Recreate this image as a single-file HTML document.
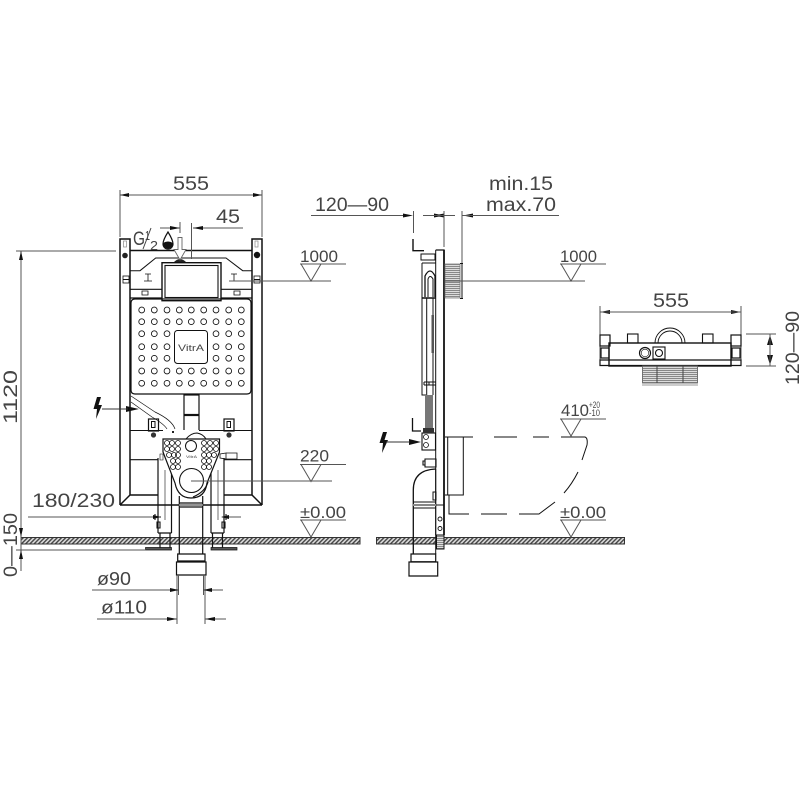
<!DOCTYPE html>
<html>
<head>
<meta charset="utf-8">
<style>
html,body{margin:0;padding:0;background:#fff}
svg{display:block}
text{font-family:"Liberation Sans",sans-serif;fill:#444}
</style>
</head>
<body>
<svg xmlns="http://www.w3.org/2000/svg" width="800" height="800" viewBox="0 0 800 800">
<defs>
<pattern id="h" width="3" height="3" patternUnits="userSpaceOnUse" patternTransform="rotate(45)">
<rect width="3" height="3" fill="#ddd"/><rect width="1.4" height="3" fill="#444"/>
</pattern>
<pattern id="g" width="3" height="2" patternUnits="userSpaceOnUse">
<rect width="3" height="2" fill="#ddd"/><rect width="3" height="1" fill="#888"/>
</pattern>
<g id="lvl"><path d="M0 0H46M1 0L11 17L21 0" fill="none" stroke="#555" stroke-width="1"/></g>
</defs>

<!-- floors -->
<rect x="21" y="537.5" width="339" height="6.5" fill="url(#h)" stroke="#333" stroke-width="1"/>
<rect x="376.5" y="537.5" width="248" height="6.5" fill="url(#h)" stroke="#333" stroke-width="1"/>

<!-- FRONT VIEW -->
<g fill="none" stroke="#111" stroke-width="1.2">
<path d="M120 505V239H130V495M120 505H262M130 495H158M224 495H252V239H262V505M130 495L120 505M252 495L262 505" stroke-width="1.5"/>
<path d="M130 250.5H252" stroke-width="1.5"/>
<path d="M130 270.700H140L155.700 258H226L242.700 270.700H252" stroke-width="1"/>
<path d="M130 289.300H162M221 289.300H252M130 298H162M221 298H252" />
<rect x="162" y="262.700" width="59" height="38" stroke-width="1.4"/>
<rect x="165" y="265.500" width="53" height="32" stroke-width="1.1"/>
<path d="M131 303Q131 299 135 299H247Q251 299 251 303V390Q251 394 247 394H135Q131 394 131 390Z" stroke-width="1.2"/>
<rect x="174.500" y="330.500" width="33" height="33" rx="3" stroke-width="1"/>
<path d="M184 394V430M199 394V430" stroke-width="1.2"/>
<path d="M184 415H199" stroke-width="2.2"/>
<path d="M184 395H199"/>
<path d="M130 430.500H163M199 430.500H252M130 459.700H158M224 459.700H252" stroke-width="1.1"/>
<rect x="148.500" y="419" width="10" height="12" stroke-width="1.2"/>
<rect x="224" y="419" width="10" height="12" stroke-width="1.2"/>
<rect x="151.500" y="421.500" width="3.500" height="6" stroke-width="1"/>
<rect x="227" y="421.500" width="3.500" height="6" stroke-width="1"/>
<path d="M131 396L155 412Q172 420 175 429M131 402L152 417Q164 424 167 429" stroke-width=".7"/>
<path d="M186 439Q191 433 197 433Q203 434 206 439" stroke-width="1"/>
<path d="M142 291h6v4h-6zM234 291h6v4h-6z" stroke-width=".8"/>
<rect x="123" y="276" width="6" height="7" stroke-width=".8"/>
<rect x="254" y="276" width="6" height="7" stroke-width=".8"/>
<path d="M123 279.500h6M254 279.500h6" stroke-width=".9"/>
<rect x="123.500" y="241" width="3" height="6" stroke="#888" stroke-width=".7"/>
<rect x="255" y="241" width="3" height="6" stroke="#888" stroke-width=".7"/>
<path d="M144 281h8M230 281h8M148 274v7M234 274v7M145 274h6M231 274h6" stroke-width=".8"/>
<path d="M158 458V533M171.500 458V533M211 458V533M224 458V533M160 533V548M170 533V548M212.500 533V548M222.500 533V548M158 533H171.500M211 533H224" stroke-width="1.2"/>
<path d="M165 470V520M218 470V520" stroke-width=".6"/>
<path d="M145.500 547.500H171.500V550H145.500ZM211 547.500H237V550H211Z" fill="#555" stroke-width=".7"/>
<path d="M179.300 496V554M202.700 496V554" stroke-width="1.2"/>
<path d="M179 503H203M179 507H203" stroke-width="1.2"/>
<path d="M179 505H203" stroke="#999" stroke-width="1.500"/>
<path d="M177.700 554H205V561H177.700ZM176.500 562H206V575H176.500Z" stroke-width="1.200"/>
<path d="M158 544H224" stroke-width=".8"/>
<path d="M152 517H161M155 514v6M222 517H230M226 514v6M157 528v-6h3v6zM225 528v-6h-3v6z" stroke-width="1.100"/>
<path d="M163 439H219.500V452L207 483Q205 498 191 498Q178 498 175 483L163 452Z" fill="#fff" stroke-width="1.200"/>
<circle cx="191.500" cy="480.500" r="12" fill="#fff" stroke-width="1.100"/>
<circle cx="191" cy="446" r="5.500" stroke-width="1"/>
<path d="M208 482Q205 492 193 497" stroke-width="1.200"/>
<path d="M226 453H237V459H226ZM220 454L226 453V459L220 458Z" stroke-width=".8"/>
<path d="M160 454h3v6h-3z" stroke-width=".6"/>
<g stroke-width=".8">
<circle cx="167" cy="443" r="2.500"/><circle cx="172" cy="443" r="2.500"/><circle cx="178" cy="443" r="2.500"/>
<circle cx="167" cy="449" r="2.500"/><circle cx="172" cy="449" r="2.500"/><circle cx="178" cy="449" r="2.500"/>
<circle cx="169" cy="455" r="2.500"/><circle cx="174" cy="455" r="2.500"/><circle cx="178" cy="455" r="2.500"/>
<circle cx="173" cy="461" r="2.500"/><circle cx="178" cy="461" r="2.500"/>
<circle cx="173" cy="467" r="2.500"/><circle cx="178" cy="467" r="2.500"/>
<circle cx="204" cy="443" r="2.500"/><circle cx="210" cy="443" r="2.500"/><circle cx="216" cy="443" r="2.500"/>
<circle cx="204" cy="449" r="2.500"/><circle cx="210" cy="449" r="2.500"/><circle cx="216" cy="449" r="2.500"/>
<circle cx="204" cy="455" r="2.500"/><circle cx="209" cy="455" r="2.500"/><circle cx="214" cy="455" r="2.500"/>
<circle cx="204" cy="461" r="2.500"/><circle cx="209" cy="461" r="2.500"/>
<circle cx="204" cy="467" r="2.500"/><circle cx="209" cy="467" r="2.500"/>
</g>
<g stroke-width=".85">
<circle cx="141.700" cy="310" r="2.900"/><circle cx="154.300" cy="310" r="2.900"/><circle cx="167" cy="310" r="2.900"/><circle cx="179.300" cy="310" r="2.900"/><circle cx="191.300" cy="310" r="2.900"/><circle cx="203.700" cy="310" r="2.900"/><circle cx="216" cy="310" r="2.900"/><circle cx="228.700" cy="310" r="2.900"/><circle cx="241.300" cy="310" r="2.900"/>
<circle cx="141.700" cy="321.700" r="2.900"/><circle cx="154.300" cy="321.700" r="2.900"/><circle cx="167" cy="321.700" r="2.900"/><circle cx="179.300" cy="321.700" r="2.900"/><circle cx="191.300" cy="321.700" r="2.900"/><circle cx="203.700" cy="321.700" r="2.900"/><circle cx="216" cy="321.700" r="2.900"/><circle cx="228.700" cy="321.700" r="2.900"/><circle cx="241.300" cy="321.700" r="2.900"/>
<circle cx="141.700" cy="333.700" r="2.900"/><circle cx="154.300" cy="333.700" r="2.900"/><circle cx="167" cy="333.700" r="2.900"/><circle cx="216" cy="333.700" r="2.900"/><circle cx="228.700" cy="333.700" r="2.900"/><circle cx="241.300" cy="333.700" r="2.900"/>
<circle cx="141.700" cy="346.700" r="2.900"/><circle cx="154.300" cy="346.700" r="2.900"/><circle cx="167" cy="346.700" r="2.900"/><circle cx="216" cy="346.700" r="2.900"/><circle cx="228.700" cy="346.700" r="2.900"/><circle cx="241.300" cy="346.700" r="2.900"/>
<circle cx="141.700" cy="358.300" r="2.900"/><circle cx="154.300" cy="358.300" r="2.900"/><circle cx="167" cy="358.300" r="2.900"/><circle cx="216" cy="358.300" r="2.900"/><circle cx="228.700" cy="358.300" r="2.900"/><circle cx="241.300" cy="358.300" r="2.900"/>
<circle cx="141.700" cy="371" r="2.900"/><circle cx="154.300" cy="371" r="2.900"/><circle cx="167" cy="371" r="2.900"/><circle cx="179.300" cy="371" r="2.900"/><circle cx="191.300" cy="371" r="2.900"/><circle cx="203.700" cy="371" r="2.900"/><circle cx="216" cy="371" r="2.900"/><circle cx="228.700" cy="371" r="2.900"/><circle cx="241.300" cy="371" r="2.900"/>
<circle cx="141.700" cy="383.300" r="2.900"/><circle cx="154.300" cy="383.300" r="2.900"/><circle cx="167" cy="383.300" r="2.900"/><circle cx="179.300" cy="383.300" r="2.900"/><circle cx="191.300" cy="383.300" r="2.900"/><circle cx="203.700" cy="383.300" r="2.900"/><circle cx="216" cy="383.300" r="2.900"/><circle cx="228.700" cy="383.300" r="2.900"/><circle cx="241.300" cy="383.300" r="2.900"/>
</g>
</g>
<circle cx="125" cy="255.500" r="2.800" fill="#222"/><circle cx="257" cy="255" r="3.200" fill="#111"/>
<circle cx="153.500" cy="435" r="2.600" fill="#333"/><circle cx="229" cy="435" r="2.600" fill="#333"/>
<rect x="172" y="431" width="2" height="2" fill="#222"/>
<path d="M174 262Q180 256 186 262Z" fill="#222"/>

<!-- drop and water arrow -->
<path d="M168 232Q173 240 173 244A5 5 0 0 1 163 244Q163 240 168 232Z" fill="#fff" stroke="#111" stroke-width="1.200"/>
<path d="M163 243Q168 240 173 243A5 5 0 0 1 163 244Z" fill="#111"/>
<path d="M178 237.500H182V249.500H186L180 260L174 249.500H178Z" fill="#fff" stroke="#666" stroke-width=".9"/>

<!-- dimension lines -->
<g fill="none" stroke="#555" stroke-width="1">
<path d="M120 190V237M262 190V237M120 195H262"/>
<path d="M160 228H180M180 222V233M191.500 223V259M193 228H243"/>
<path d="M16 251H116M21 251V537M16 550H146M21 537V550M21 550V571"/>
<path d="M28 517H160M222 517H241"/>
<path d="M92 590H179M203 590H223M97 619H177M205 619H226"/>
<path d="M178.500 575V595M203.500 575V595M177 575V624M205 575V624"/>
<path d="M191 481H332M229 281H331"/>
</g>
<use href="#lvl" x="300" y="264"/>
<use href="#lvl" x="300" y="464.500"/>
<use href="#lvl" x="300" y="520"/>
<use href="#lvl" x="560" y="264"/>
<use href="#lvl" x="560" y="419"/>
<use href="#lvl" x="560" y="520"/>
<g fill="#111">
<path d="M120 195l9-2v4zM262 195l-9-2v4z"/>
<path d="M180 228l-10-2v4zM193 228l10-2v4z"/>
<path d="M21 251l-2 9h4zM21 537l-2-9h4zM21 550l-2 9h4z"/>
<path d="M161 517l-8-2v4zM221 517l8-2v4z"/>
<path d="M179 590l-9-2v4zM203 590l9-2v4zM177 619l-10-2v4zM205 619l10-2v4z"/>
<path d="M139 409l-13-3v6zM421 442l-12-3v6z"/>
<path d="M97 397L101 397L98.500 405L102 405L96 419L97 409L93.500 409Z"/>
<path d="M383 432L387 432L384.500 440L388 440L382 453L383 443L379.500 443Z"/>
<path d="M413 215.500l-10-2v4zM434 215.500l10 2v-4zM444 215.500l-10-2v4zM463 215.500l10-2v4zM600 312l10-2v4zM741 312l-10-2v4zM770 335l-3 10h6zM770 365l-3-10h6z"/>
</g>
<path d="M102 409H128M386 442H410" stroke="#333" stroke-width="1"/>

<!-- SIDE VIEW -->
<g fill="none" stroke="#111" stroke-width="1.100">
<path d="M413 239V250.700H424" stroke-width="1.400"/>
<path d="M435.700 250H444V535" stroke-width="1.300"/>
<path d="M435.700 250V535" stroke-width="1"/>
<path d="M444 250V535" stroke-width="1.700"/>
<path d="M436 505H444" stroke-width="1"/>
<path d="M422 263H436M422 263V395H426M426.700 298V395M433 298V395" stroke-width="1"/>
<path d="M422 298H436" stroke-width="1.500"/>
<path d="M424 382H436M424 385H436M424 382V385M429 382V385" stroke-width="1"/>
<path d="M425 297V276Q430 266 435 276V297" stroke-width="1.300"/>
<path d="M428 297V279Q430 274 433 279V297" stroke-width="1"/>
<path d="M421 254H435V260H421Z" stroke-width="1"/>
<path d="M412.500 418V431H421" stroke-width="1.300"/>
<rect x="422" y="433" width="13.500" height="17" stroke-width="1.100"/>
<circle cx="426" cy="437" r="2.500" stroke-width=".8"/><circle cx="426" cy="445" r="2.500" stroke-width=".8"/>
<path d="M425 459H436V467H425ZM423 461H425V465H423Z" stroke-width="1.100"/>
<path d="M413.300 554V490Q413.300 470 435.700 469" stroke-width="1.300"/>
<path d="M435.700 469V554" stroke-width="1"/>
<path d="M413 502H436M413 508H436" stroke-width="1"/>
<path d="M413 505H436" stroke="#888" stroke-width="2"/>
<path d="M433 492H436V500H433Z" stroke-width="1"/>
<path d="M411 554H435.700V561.700H411ZM409 562H437.700V576H409Z" stroke-width="1.200"/>
<path d="M413 544H444" stroke-width=".8"/>
<rect x="436.500" y="535" width="7.500" height="14" fill="url(#g)" stroke-width="1"/>
<circle cx="440" cy="519" r="2" stroke-width=".9"/><circle cx="440" cy="528.500" r="2" stroke-width=".9"/>
<path d="M445 437H463.300V495H445M447.700 437V495" stroke-width="1"/>
<path d="M449 495V514H469M481 514H507M519 514H539L555 502" stroke-width="1"/>
<path d="M463 437H473M494 437H517M533 437H549M561 437H585Q588 438 587 445L582 460M578 472Q572 484 564 493" stroke-width="1"/>
<path d="M445 264H460V298H445Z" fill="url(#g)" stroke="#777" stroke-width=".8"/>
<path d="M462 263V298.500M460 263.500H463M460 298.500H463" stroke-width="1"/>
</g>
<path d="M425 395H433V428H425Z" fill="#777"/>
<rect x="431.500" y="315" width="2.500" height="38" fill="#555"/>
<rect x="423" y="428" width="11" height="5" fill="#333"/>
<g fill="none" stroke="#555" stroke-width="1">
<path d="M311 215.500H403M413.500 211V233M423 215.500H455M444 211V247M462 211V263M462 215.500H559M445 281H585"/>
</g>

<!-- PLAN VIEW -->
<g fill="none" stroke="#111" stroke-width="1.200">
<path d="M600 306V366M741 306V366M600 312H741" stroke="#555" stroke-width="1"/>
<rect x="609" y="343" width="122" height="23" stroke-width="1.400"/>
<path d="M600 360H741V365.500H600Z" stroke-width="1.200"/>
<rect x="600" y="335" width="10" height="11" stroke-width="1.200"/>
<rect x="731" y="335" width="10" height="11" stroke-width="1.200"/>
<rect x="627.500" y="334" width="10.500" height="9" stroke-width="1.100"/>
<rect x="702.500" y="334" width="10.500" height="9" stroke-width="1.100"/>
<path d="M655 343A15 15 0 0 1 685 343M658 343A12 12 0 0 1 682 343" stroke-width=".9"/>
<circle cx="645" cy="353" r="5.500" stroke-width="1.200"/>
<circle cx="645" cy="353" r="3.800" stroke-width=".6"/>
<rect x="653" y="347" width="12" height="12" stroke-width="1.100"/>
<circle cx="659" cy="353" r="3.500" stroke-width="1.100"/>
<rect x="601" y="348" width="8" height="10" stroke-width="1.200"/>
<rect x="732" y="348" width="8" height="10" stroke-width="1.200"/>
<rect x="642.500" y="366" width="55" height="17" fill="url(#g)" stroke="#666" stroke-width=".9"/>
<path d="M657 366V383M683 366V383" stroke="#444" stroke-width="1"/>
<path d="M642 385H698" stroke="#777" stroke-width=".8"/>
<path d="M746 334H776M746 366H776M770 334V366" stroke="#555" stroke-width="1"/>
</g>

<!-- labels -->
<text x="173" y="190" font-size="19" textLength="36" lengthAdjust="spacingAndGlyphs">555</text>
<text x="216" y="223" font-size="19" textLength="24" lengthAdjust="spacingAndGlyphs">45</text>
<text x="133" y="245" font-size="19" textLength="12" lengthAdjust="spacingAndGlyphs">G</text>
<text x="145" y="240" font-size="13" textLength="5" lengthAdjust="spacingAndGlyphs">1</text>
<path d="M143 249L151 228" stroke="#444" stroke-width="1"/>
<text x="150" y="250" font-size="13" textLength="8" lengthAdjust="spacingAndGlyphs">2</text>
<text x="300" y="262" font-size="17" textLength="38" lengthAdjust="spacingAndGlyphs">1000</text>
<text x="300" y="461.500" font-size="17" textLength="29" lengthAdjust="spacingAndGlyphs">220</text>
<text x="300" y="518" font-size="17" textLength="46" lengthAdjust="spacingAndGlyphs">±0.00</text>
<text x="32" y="507" font-size="19" textLength="83" lengthAdjust="spacingAndGlyphs">180/230</text>
<text x="97" y="585" font-size="18" textLength="34" lengthAdjust="spacingAndGlyphs">ø90</text>
<text x="101" y="613.500" font-size="18" textLength="46" lengthAdjust="spacingAndGlyphs">ø110</text>
<text transform="translate(17,424) rotate(-90)" font-size="19" textLength="54" lengthAdjust="spacingAndGlyphs">1120</text>
<text transform="translate(17,577) rotate(-90)" font-size="19" textLength="64" lengthAdjust="spacingAndGlyphs">0—150</text>
<text x="315" y="211" font-size="19" textLength="74" lengthAdjust="spacingAndGlyphs">120—90</text>
<text x="489" y="190" font-size="19" textLength="64" lengthAdjust="spacingAndGlyphs">min.15</text>
<text x="486" y="211" font-size="19" textLength="70" lengthAdjust="spacingAndGlyphs">max.70</text>
<text x="560" y="262" font-size="17" textLength="37" lengthAdjust="spacingAndGlyphs">1000</text>
<text x="561" y="416" font-size="17" textLength="28" lengthAdjust="spacingAndGlyphs">410</text>
<text x="589" y="408" font-size="9" textLength="11" lengthAdjust="spacingAndGlyphs">+20</text>
<text x="589" y="416" font-size="9" textLength="11" lengthAdjust="spacingAndGlyphs">-10</text>
<text x="560" y="518" font-size="17" textLength="46" lengthAdjust="spacingAndGlyphs">±0.00</text>
<text x="653" y="307" font-size="19" textLength="36" lengthAdjust="spacingAndGlyphs">555</text>
<text transform="translate(799,385) rotate(-90)" font-size="19" textLength="74" lengthAdjust="spacingAndGlyphs">120—90</text>
<text x="178" y="351" font-size="9" textLength="26" lengthAdjust="spacingAndGlyphs">VitrA</text>
<text x="186" y="458" font-size="4" textLength="11" lengthAdjust="spacingAndGlyphs">VitrA</text>
</svg>
</body>
</html>
